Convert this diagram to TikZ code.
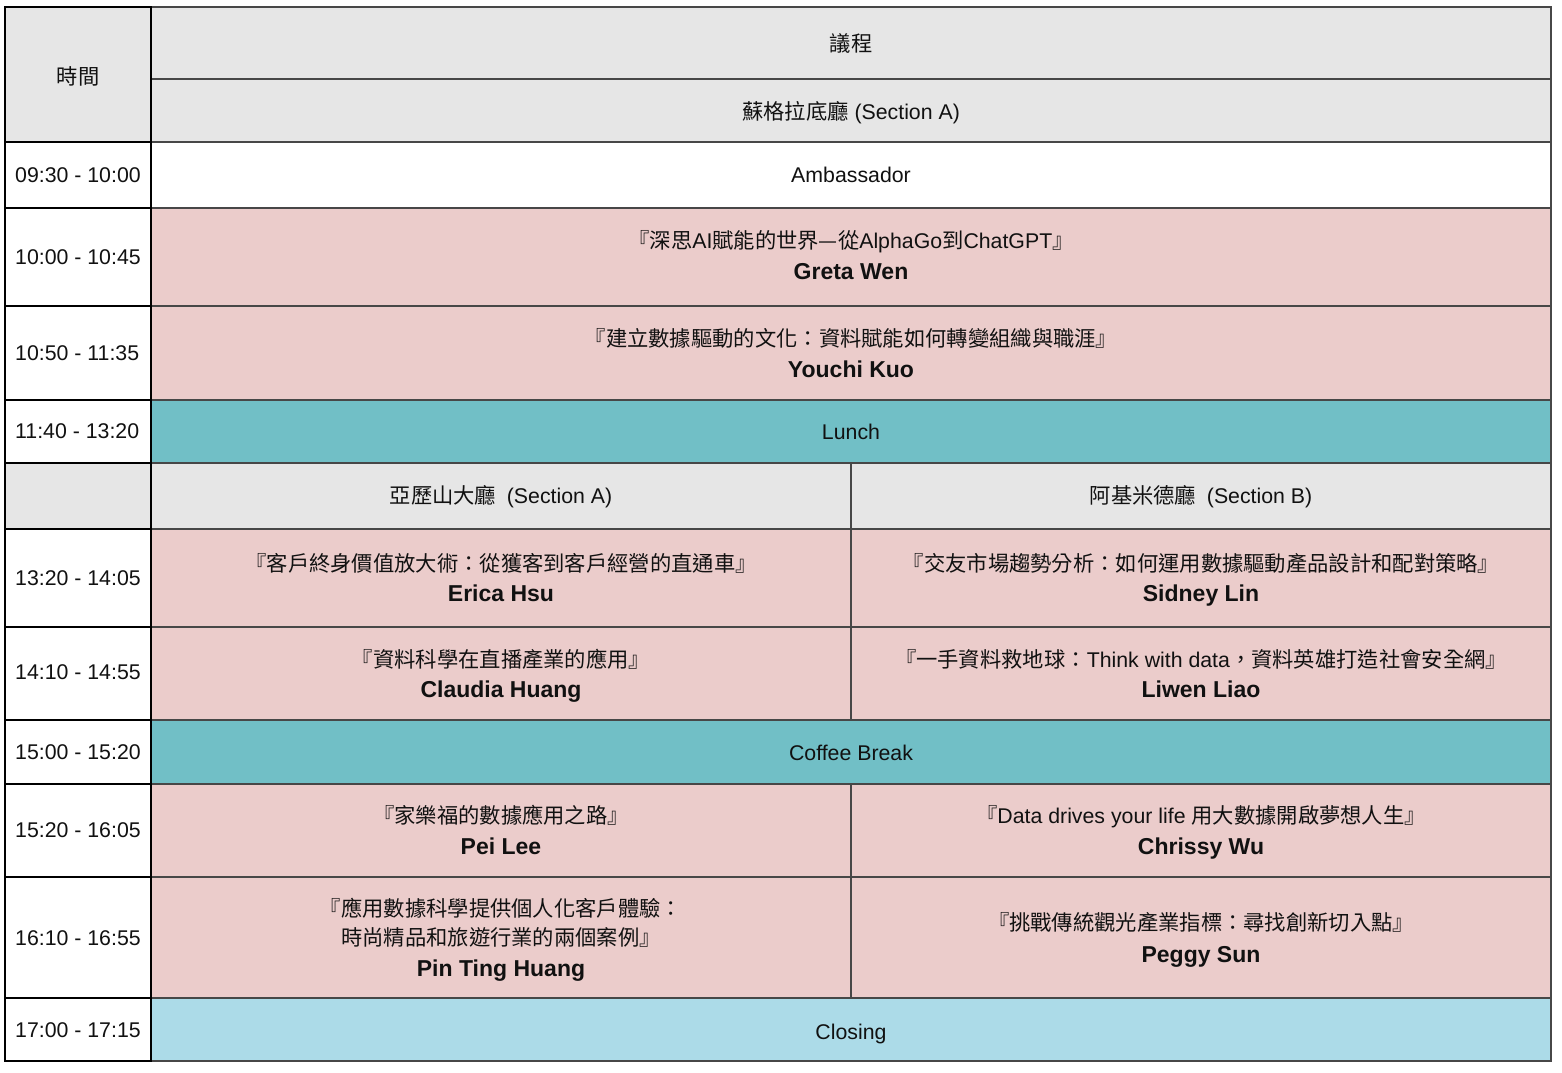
\documentclass[tikz,border=0pt]{standalone}
\usepackage{fontspec}
\setmainfont{Liberation Sans}
\newfontfamily\cjk[Scale=1.0]{Noto Sans CJK TC}
\definecolor{hdgray}{HTML}{E6E6E6}
\definecolor{talk}{HTML}{EBCCCB}
\definecolor{teal}{HTML}{71BFC6}
\definecolor{lblue}{HTML}{ACDBE8}
\definecolor{gline}{HTML}{474747}
\definecolor{tx}{HTML}{111111}
\tikzset{
  txt/.style={anchor=base, inner sep=0pt, text=tx, font=\fontsize{21.3}{25}\selectfont},
  nm/.style={anchor=base, inner sep=0pt, text=tx, font=\fontsize{23}{27}\selectfont\bfseries},
  tm/.style={txt, anchor=base west},
  bl/.style={draw=black, line width=2.4pt},
  gl/.style={draw=gline, line width=2.2pt},
}
\begin{document}
\begin{tikzpicture}[x=1pt,y=-1pt]
\useasboundingbox (0,0) rectangle (1562,1072);
\fill[white] (0,0) rectangle (1562,1072);
% fills
\fill[hdgray] (5,7) rectangle (1551,142);
\fill[hdgray] (5,463) rectangle (1551,529);
\fill[talk] (151,208) rectangle (1551,400);
\fill[teal] (151,400) rectangle (1551,463);
\fill[talk] (151,529) rectangle (1551,720);
\fill[teal] (151,720) rectangle (1551,784);
\fill[talk] (151,784) rectangle (1551,998);
\fill[lblue] (151,998) rectangle (1551,1061);
% right-side lines
\foreach \y in {79,142,208,306,400,463,529,627,720,784,877,998}
  \draw[gl] (151,\y) -- (1551,\y);
\draw[gl] (851,463) -- (851,720);
\draw[gl] (851,784) -- (851,998);
\draw[gl] (151,1061) -- (1552,1061);
\draw[gl] (151,7) -- (1551,7);
\draw[gl] (1551,6) -- (1551,1062);
% left column lines
\foreach \y in {142,208,306,400,463,529,627,720,784,877,998}
  \draw[bl] (5,\y) -- (151,\y);
\draw[bl] (4,7) -- (151,7);
\draw[bl] (4,1061) -- (151,1061);
\draw[bl] (5,6) -- (5,1062);
\draw[bl] (151,6) -- (151,1062);
% header texts
\node[txt] (time) at (78,84.5) {\cjk 時間};
\node[txt] (agenda) at (851,51.5) {\cjk 議程};
\node[txt] (hallS) at (851,119.5) {{\cjk 蘇格拉底廳} (Section A)};
% time labels
\node[tm] (t1) at (15,182.5) {09:30 - 10:00};
\node[tm] (t2) at (15,264) {10:00 - 10:45};
\node[tm] (t3) at (15,360) {10:50 - 11:35};
\node[tm] (t4) at (15,438.5) {11:40 - 13:20};
\node[tm] (t5) at (15,585) {13:20 - 14:05};
\node[tm] (t6) at (15,679.5) {14:10 - 14:55};
\node[tm] (t7) at (15,759) {15:00 - 15:20};
\node[tm] (t8) at (15,837) {15:20 - 16:05};
\node[tm] (t9) at (15,945) {16:10 - 16:55};
\node[tm] (t10) at (15,1037) {17:00 - 17:15};
% single-row events
\node[txt] (amb) at (851,182.5) {Ambassador};
\node[txt] (lunch) at (851,439.5) {Lunch};
\node[txt] (coffee) at (851,760.5) {Coffee Break};
\node[txt] (closing) at (851,1039.5) {Closing};
% morning talks
\node[txt] (k1) at (851,248.5) {{\cjk 『深思}AI{\cjk 賦能的世界—從}AlphaGo{\cjk 到}ChatGPT{\cjk 』}};
\node[nm] (s1) at (851,279) {Greta Wen};
\node[txt] (k2) at (851,346.5) {\cjk 『建立數據驅動的文化：資料賦能如何轉變組織與職涯』};
\node[nm] (s2) at (851,377) {Youchi Kuo};
% hall headers
\node[txt] (hallA) at (501,503.5) {{\cjk 亞歷山大廳}\hspace{0.5em}(Section A)};
\node[txt] (hallB) at (1201,503.5) {{\cjk 阿基米德廳}\hspace{0.5em}(Section B)};
% afternoon talks
\node[txt] (a1) at (501,571.5) {\cjk 『客戶終身價值放大術：從獲客到客戶經營的直通車』};
\node[nm] (as1) at (501,601) {Erica Hsu};
\node[txt] (b1) at (1201,571.5) {\cjk 『交友市場趨勢分析：如何運用數據驅動產品設計和配對策略』};
\node[nm] (bs1) at (1201,601) {Sidney Lin};
\node[txt] (a2) at (501,667.5) {\cjk 『資料科學在直播產業的應用』};
\node[nm] (as2) at (501,697) {Claudia Huang};
\node[txt] (b2) at (1201,667.5) {{\cjk 『一手資料救地球：}Think with data{\cjk ，資料英雄打造社會安全網』}};
\node[nm] (bs2) at (1201,697) {Liwen Liao};
\node[txt] (a3) at (501,823.5) {\cjk 『家樂福的數據應用之路』};
\node[nm] (as3) at (501,854) {Pei Lee};
\node[txt] (b3) at (1201,823.5) {{\cjk 『}Data drives your life {\cjk 用大數據開啟夢想人生』}};
\node[nm] (bs3) at (1201,854) {Chrissy Wu};
\node[txt] (a4) at (501,916.5) {\cjk 『應用數據科學提供個人化客戶體驗：};
\node[txt] (a4b) at (501,945.5) {\cjk 時尚精品和旅遊行業的兩個案例』};
\node[nm] (as4) at (501,976) {Pin Ting Huang};
\node[txt] (b4) at (1201,930.5) {\cjk 『挑戰傳統觀光產業指標：尋找創新切入點』};
\node[nm] (bs4) at (1201,962) {Peggy Sun};
\end{tikzpicture}
\end{document}
